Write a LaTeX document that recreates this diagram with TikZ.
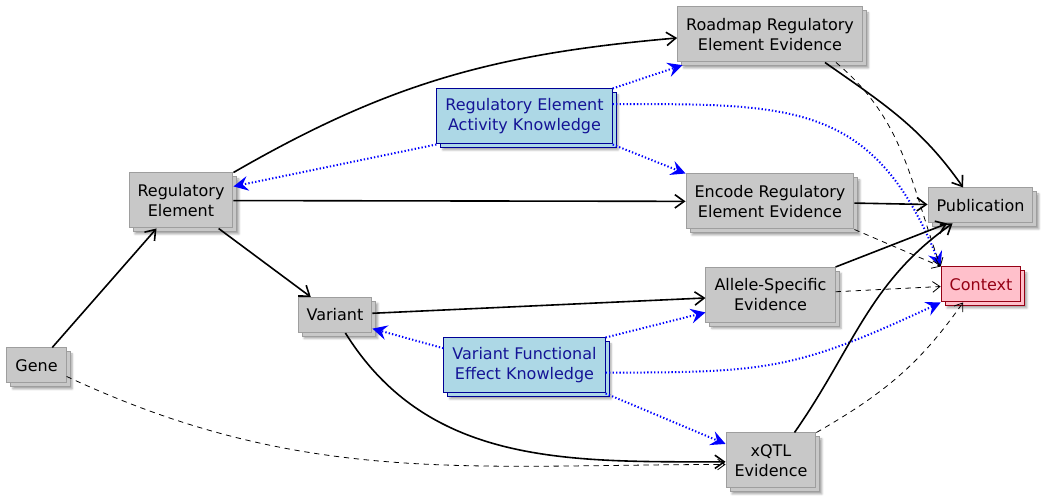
\documentclass[tikz,border=0pt]{standalone}
\usepackage{fontspec}
\setmainfont{DejaVu Sans}
\usepackage{tikz}
\usetikzlibrary{arrows.meta,positioning,shadows,shadows.blur}
\definecolor{boxgray}{RGB}{200,200,200}
\definecolor{boxline}{RGB}{158,158,158}
\definecolor{knowfill}{RGB}{173,216,230}
\definecolor{knowline}{RGB}{0,0,150}
\definecolor{knowtext}{RGB}{20,20,150}
\definecolor{ctxfill}{RGB}{255,192,203}
\definecolor{ctxline}{RGB}{150,0,20}
\tikzset{%
	stack/.style n args = {3}{rectangle, fill=#1, draw=#2, text=#3, line width=0.75pt, align=center, inner xsep=6.4pt, font=\fontsize{12pt}{15pt}\selectfont,
		blur shadow={shadow xshift=4.5pt, shadow yshift=-4.5pt, shadow blur radius=1.5pt, shadow opacity=35},
		copy shadow={shadow xshift=3pt, shadow yshift=-3pt, fill=#1, draw=#2, line width=0.75pt}},
	entity/.style    = {stack={boxgray}{boxline}{black}},
	knowledge/.style = {stack={knowfill}{knowline}{knowtext}},
	context/.style   = {stack={ctxfill}{ctxline}{ctxline}},
	oneline/.style   = {minimum height=26.25pt},
	twoline/.style   = {minimum height=41.25pt},
	link/.style      = {line width=1.2pt, -{Straight Barb[length=7pt,width=10pt]}},
	weak/.style      = {line width=0.6pt, dash pattern=on 4pt off 3.5pt, -{Straight Barb[length=5.5pt,width=8pt]}},
	annot/.style     = {blue, line width=1.5pt, dash pattern=on 1pt off 1.6pt, -{Stealth[length=11pt,width=11pt,inset=4pt]}},
}
\begin{document}
\begin{tikzpicture}[x=0.75pt,y=0.75pt]
	\useasboundingbox (0,0) rectangle (1048,502);
	% evidence collections
	\node[entity,oneline] (gene) at (36.5,136.5) {Gene};
	\node[entity,twoline] (regel) at (181,301.5) {Regulatory\\Element};
	\node[entity,oneline] (variant) at (335,187) {Variant};
	\node[entity,twoline] (roadmap) at (770,467.5) {Roadmap Regulatory\\Element Evidence};
	\node[entity,twoline] (encode) at (770,300.5) {Encode Regulatory\\Element Evidence};
	\node[entity,twoline] (allele) at (770.5,207) {Allele-Specific\\Evidence};
	\node[entity,twoline] (xqtl) at (771,41.5) {xQTL\\Evidence};
	\node[entity,oneline] (pub) at (980.5,296.5) {Publication};
	\node[context,oneline] (ctx) at (981,217.5) {Context};
	% knowledge statements
	\node[knowledge,twoline] (reak) at (524.5,385.5) {Regulatory Element\\Activity Knowledge};
	\node[knowledge,twoline] (vfek) at (524.5,136.5) {Variant Functional\\Effect Knowledge};

	\draw[link] (gene) -- (regel);
	\draw[link] (regel.north east) to[out=30,in=185] ([yshift=-2.6pt]roadmap.west);
	\draw[link] (regel) -- (encode);
	\draw[link] (regel) -- (variant);
	\draw[weak] (gene.-20) to[out=-25,in=180] ([yshift=-3pt]xqtl.west);
	\draw[link] (variant) -- (allele);
	\draw[link] (variant.-60) to[out=-58,in=180] ([yshift=-1pt]xqtl.west);

	\draw[annot] (reak.south west) -- (regel.15);
	\draw[annot] (reak.north east) -- ([xshift=4pt,yshift=-2pt]roadmap.south west);
	\draw[annot] (reak.south east) -- (encode.north west);
	\draw[annot] (reak.8) to[out=0,in=112,looseness=1.25] (ctx.north west);
	\draw[annot] (vfek.168) -- (variant.-20);
	\draw[annot] (vfek.north east) -- (allele.-165);
	\draw[annot] (vfek.-5) to[out=0,in=205,looseness=1.2] (ctx.south west);
	\draw[annot] (vfek.south east) -- (xqtl.160);

	\draw[link] (roadmap.-27) to[out=-35,in=125] ([xshift=-13pt]pub.north);
	\draw[weak] (roadmap.-23) to[out=-40,in=110] (ctx.north west);
	\draw[link] (encode) -- (pub);
	\draw[weak] (encode.south east) -- (ctx.north west);
	\draw[link] (allele.north east) -- ([xshift=-25pt]pub.south);
	\draw[weak] (allele) -- (ctx);
	\draw[link] (xqtl.50) to[out=55,in=215] ([xshift=-21pt]pub.south);
	\draw[weak] (xqtl.north east) to[out=30,in=-125] ([xshift=-13.5pt]ctx.south);
\end{tikzpicture}
\end{document}
